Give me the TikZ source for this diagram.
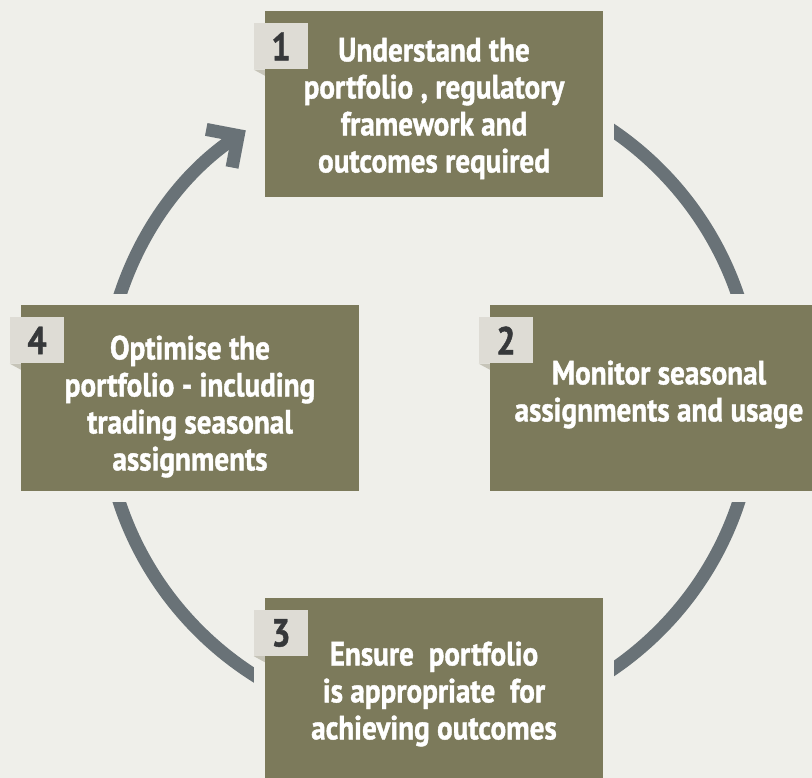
\documentclass[tikz,border=0pt]{standalone}
\usepackage{fontspec}
\setmainfont{PT Sans}[FakeStretch=0.87, BoldFeatures={FakeBold=1.2}]
\usetikzlibrary{arrows.meta}

\definecolor{paper}{HTML}{EFEFEA}
\definecolor{olive}{HTML}{7C7A5B}
\definecolor{tabgray}{HTML}{DEDCD5}
\definecolor{tabshade}{HTML}{C6C4B8}
\definecolor{ringgray}{HTML}{697277}
\definecolor{numgray}{HTML}{36383A}

\tikzset{
  stepbox/.style={fill=olive, preaction={draw=paper, line width=22pt},
    minimum width=338pt, minimum height=186pt, inner sep=0pt},
  steptext/.style={text=white, align=center,
    font=\fontsize{33.5}{37}\selectfont\bfseries},
  numtab/.style={fill=tabgray, minimum width=54pt, minimum height=46pt,
    inner sep=0pt, anchor=north west, text=numgray,
    font=\fontsize{39}{39}\selectfont\bfseries},
  ring/.style={draw=ringgray, line width=13pt}
}

\begin{document}
\begin{tikzpicture}[x=1pt,y=1pt]
        \fill[paper] (0,0) rectangle (812,778);
        \useasboundingbox (0,0) rectangle (812,778);

        % the cycle, drawn under the boxes
        \coordinate (hub) at (429,378);
        \draw[ring] ([shift={(90:326)}]hub) arc[start angle=90, end angle=0, radius=326];
        \draw[ring] ([shift={(0:326)}]hub) arc[start angle=0, end angle=-90, radius=326];
        \draw[ring] ([shift={(180:326)}]hub) arc[start angle=180, end angle=270, radius=326];
        \draw[ring, -{Straight Barb[length=23pt, width=46pt]}]
            ([shift={(180:326)}]hub) arc[start angle=180, end angle=124.2, radius=326];

        \node[stepbox] (box1) at (434,673.5) {};
        \node[stepbox] (box2) at (659,379.5) {};
        \node[stepbox] (box3) at (434,87) {};
        \node[stepbox] (box4) at (190,379.5) {};

        \node[steptext] (txt1) at ([yshift=-4pt]box1.center)
            {Understand the\\portfolio , regulatory\\framework and\\outcomes required};
        \node[steptext] (txt2) at ([yshift=4pt]box2.center)
            {Monitor seasonal\\assignments and usage};
        \node[steptext] (txt3) at ([yshift=-3pt]box3.center)
            {Ensure\ \ portfolio\\is appropriate\ \ for\\achieving outcomes};
        \node[steptext] (txt4) at ([yshift=-8pt]box4.center)
            {Optimise the\\portfolio - including\\trading seasonal\\assignments};

        % number tabs with their folded corner
        \foreach \n in {1,...,4} {
            \node[numtab] (tab\n) at ([shift={(-11pt,-12pt)}]box\n.north west) {\n};
            \fill[tabshade] (tab\n.south west) -- (tab\n.south west -| box\n.west)
                -- ([yshift=-6pt]tab\n.south west -| box\n.west) -- cycle;
        }

\end{tikzpicture}
\end{document}
